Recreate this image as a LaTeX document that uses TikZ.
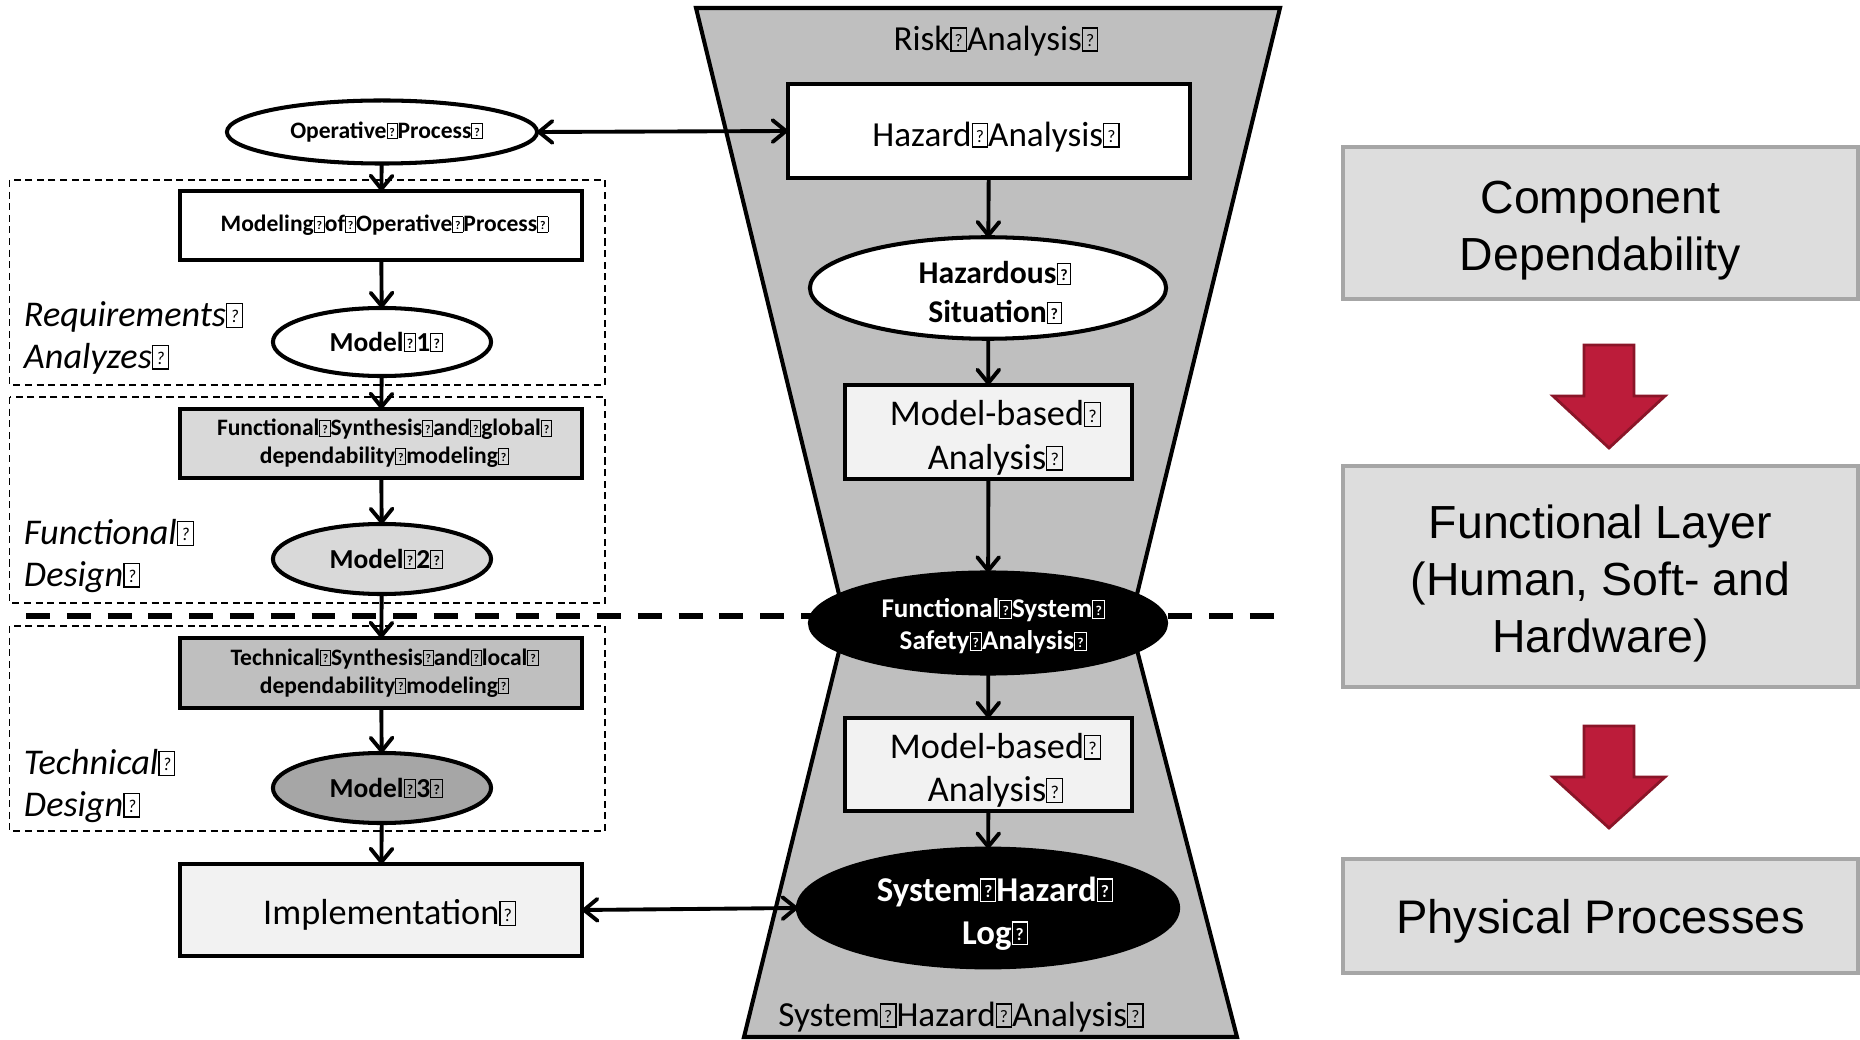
\documentclass[tikz,border=0pt]{standalone}
\usepackage{fontspec}
\usepackage{graphicx}
\setmainfont{Carlito}
\newfontfamily\layerfont{Liberation Sans}
\usetikzlibrary{arrows.meta,shapes.geometric}

% placeholder glyph box that follows each label
\newcommand{\qm}{{\setlength{\fboxsep}{0pt}\setlength{\fboxrule}{0.035em}\fbox{\makebox[0.4em]{\rule{0pt}{0.62em}\raisebox{0.1em}{\scalebox{0.5}{?}}}}}}
% small horizontal lead-in, pushes a centred line slightly to the right
\newcommand{\lead}[1]{\hspace*{#1}}

\definecolor{funnel}{HTML}{BFBFBF}
\definecolor{lightfill}{HTML}{F2F2F2}
\definecolor{fsfill}{HTML}{D9D9D9}
\definecolor{tsfill}{HTML}{BFBFBF}
\definecolor{mthreefill}{HTML}{A6A6A6}
\definecolor{layerfill}{HTML}{DDDDDD}
\definecolor{layerline}{HTML}{A6A6A6}
\definecolor{arrowred}{HTML}{BC1C3A}
\definecolor{arrowedge}{HTML}{8A1528}

\tikzset{
  every node/.style={inner sep=0pt, outer sep=0pt},
  tip/.tip={Straight Barb[length=3.8pt,width=6.2pt,round]},
  conn/.style={line width=1.1pt, -tip},
  biconn/.style={line width=1.1pt, tip-tip},
  boxnode/.style={draw, line width=1.15pt, rectangle, align=center},
  ellnode/.style={draw, line width=1.15pt, ellipse, align=center},
  phase/.style={draw, line width=0.5pt, dash pattern=on 2pt off 1.3pt},
  phaselabel/.style={anchor=west, align=left, font=\itshape\fontsize{10.3}{11.9}\selectfont},
  smallbold/.style={font=\bfseries\fontsize{6.7}{8}\selectfont},
  modelbold/.style={font=\bfseries\fontsize{7.8}{9}\selectfont},
  regular/.style={font=\fontsize{10}{12.2}\selectfont},
  regularb/.style={font=\fontsize{10.3}{12.4}\selectfont},
  layer/.style={draw=layerline, fill=layerfill, line width=1.1pt, rectangle, align=center,
    minimum width=5.15cm, font=\layerfont\fontsize{13.2}{16.2}\selectfont},
  redarrow/.style={fill=arrowred, draw=arrowedge, line width=0.8pt},
}

\begin{document}
\begin{tikzpicture}[x=0.01cm, y=-0.01cm]
\useasboundingbox (0,0) rectangle (1860,1040);

% hourglass of the analysis funnel
\draw[fill=funnel, line width=1.15pt, line join=miter]
  (696,8) -- (1280,8) -- (1130,623) -- (1237,1037) -- (744,1037) -- (846,623) -- cycle;

% boundary between functional and technical levels
\draw[line width=1.5pt, dash pattern=on 6.8pt off 4.8pt] (26,616) -- (1281,616);

% design phases
\draw[phase] (9.5,180) rectangle (605,385);
\draw[phase] (9.5,397) rectangle (605,603);
\draw[phase] (9.5,626) rectangle (605,831);

\node[phaselabel] (lreq) at (24,338) {Requirements\qm\\Analyzes\qm};
\node[phaselabel] (lfun) at (24,556) {Functional\qm\\Design\qm};
\node[phaselabel] (ltec) at (24,786) {Technical\qm\\Design\qm};

% development chain
\node[ellnode, smallbold, fill=white, minimum width=3.10cm, minimum height=0.63cm] (op) at (382,132) {\lead{2.5pt}Operative\qm Process\qm};
\node[boxnode, smallbold, fill=white, minimum width=4.02cm, minimum height=0.69cm] (mop) at (381,225.5) {\lead{2pt}Modeling\qm of\qm Operative\qm Process\qm};
\node[ellnode, modelbold, fill=white, minimum width=2.18cm, minimum height=0.68cm] (m1) at (382,342) {\lead{2.5pt}Model\qm 1\qm};
\node[boxnode, smallbold, fill=fsfill, minimum width=4.02cm, minimum height=0.69cm] (fs) at (381,443.5) {\lead{2pt}Functional\qm Synthesis\qm and\qm global\qm\\\lead{2pt}dependability\qm modeling\qm};
\node[ellnode, modelbold, fill=fsfill, minimum width=2.18cm, minimum height=0.70cm] (m2) at (382,559) {\lead{2.5pt}Model\qm 2\qm};
\node[boxnode, smallbold, fill=tsfill, minimum width=4.02cm, minimum height=0.70cm] (ts) at (381,673) {\lead{2pt}Technical\qm Synthesis\qm and\qm local\qm\\\lead{2pt}dependability\qm modeling\qm};
\node[ellnode, modelbold, fill=mthreefill, minimum width=2.18cm, minimum height=0.70cm] (m3) at (382,788) {\lead{2.5pt}Model\qm 3\qm};
\node[boxnode, regularb, fill=lightfill, minimum width=4.02cm, minimum height=0.92cm] (impl) at (381,910) {\lead{5pt}\rule{0pt}{10pt}Implementation\qm};

% risk analysis chain
\node[regular] (ra) at (996,41) {Risk\qm Analysis\qm};
\node[boxnode, regular, fill=white, minimum width=4.02cm, minimum height=0.94cm] (ha) at (989,131) {\lead{4pt}\rule{0pt}{10.3pt}Hazard\qm Analysis\qm};
\node[ellnode, fill=white, font=\bfseries\fontsize{9}{11.1}\selectfont, minimum width=3.56cm, minimum height=1.01cm] (hs) at (988,288) {\lead{4pt}\rule{0pt}{9pt}Hazardous\qm\\\lead{4pt}Situation\qm};
\node[boxnode, regularb, fill=lightfill, minimum width=2.87cm, minimum height=0.94cm] (mba1) at (988.5,432) {\lead{4pt}\rule{0pt}{10.5pt}Model-based\qm\\\lead{4pt}Analysis\qm};
\node[ellnode, fill=black, text=white, font=\bfseries\fontsize{7.7}{9.1}\selectfont, minimum width=3.56cm, minimum height=1.01cm] (fssa) at (988,623) {\lead{3pt}\rule{0pt}{7.4pt}Functional\qm System\qm\\\lead{3pt}Safety\qm Analysis\qm};
\node[boxnode, regularb, fill=lightfill, minimum width=2.87cm, minimum height=0.93cm] (mba2) at (988.5,764.5) {\lead{4pt}\rule{0pt}{10.5pt}Model-based\qm\\\lead{4pt}Analysis\qm};
\node[ellnode, fill=black, text=white, font=\bfseries\fontsize{9.9}{12.2}\selectfont, minimum width=3.80cm, minimum height=1.05cm] (shl) at (988,908) {\lead{4pt}\rule{0pt}{10pt}System\qm Hazard\qm\\\lead{4pt}Log\qm};
\node[regular] (sha) at (961,1017) {System\qm Hazard\qm Analysis\qm};

% connectors
\draw[conn] (op) -- (mop);
\draw[conn] (mop) -- (m1);
\draw[conn] (m1) -- (fs);
\draw[conn] (fs) -- (m2);
\draw[conn] (m2) -- (ts);
\draw[conn] (ts) -- (m3);
\draw[conn] (m3) -- (impl);
\draw[conn] (ha) -- (hs);
\draw[conn] (hs) -- (mba1);
\draw[conn] (mba1) -- (fssa);
\draw[conn] (fssa) -- (mba2);
\draw[conn] (mba2) -- (shl);
\draw[biconn] (op.east) -- (ha.west);
\draw[biconn] (impl.east) -- (shl.west);

% dependability layers
\node[layer, minimum height=1.52cm] (cd) at (1600.5,223) {\rule{0pt}{13.3pt}Component\\Dependability};
\node[layer, minimum height=2.21cm] (fl) at (1600.5,576.5) {\rule{0pt}{13.6pt}Functional Layer\\(Human, Soft- and\\Hardware)};
\node[layer, minimum height=1.14cm, font=\layerfont\fontsize{13.4}{16.2}\selectfont] (pp) at (1600.5,916) {\rule{0pt}{13pt}Physical Processes};

\draw[redarrow] (1584,345) -- (1634,345) -- (1634,396) -- (1665,396) -- (1609,448) -- (1553,396) -- (1584,396) -- cycle;
\draw[redarrow] (1584,726) -- (1634,726) -- (1634,777) -- (1665,777) -- (1609,828) -- (1553,777) -- (1584,777) -- cycle;
\end{tikzpicture}
\end{document}
